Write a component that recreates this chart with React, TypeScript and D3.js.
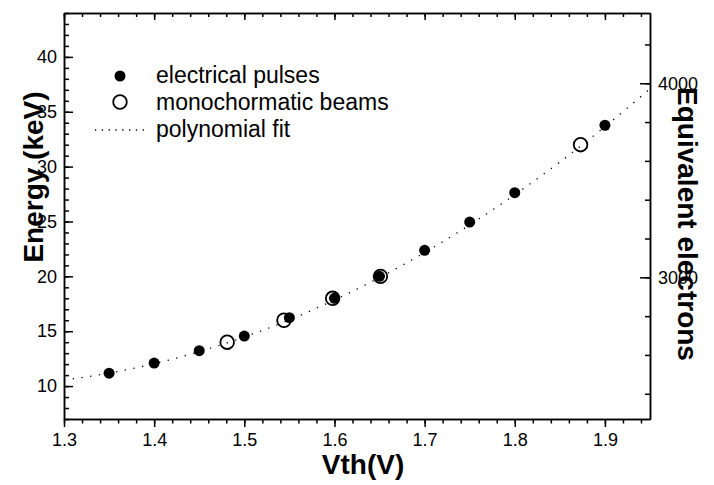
import React, { useEffect, useRef } from "react";
import * as d3 from "d3";

// electrical pulses (filled dots)
const pulseVth = [1.35, 1.4, 1.45, 1.5, 1.55, 1.6, 1.65, 1.7, 1.75, 1.8, 1.9];
const pulseE = [11.18, 12.1, 13.23, 14.56, 16.23, 18.0, 20.0, 22.37, 24.95, 27.63, 33.77];

// monochromatic beams (open circles)
const beamVth = [1.481, 1.544, 1.598, 1.651, 1.873];
const beamE = [14.0, 16.0, 18.0, 20.0, 32.0];

// polynomial fit
const fitVth = [1.3, 1.35, 1.4, 1.45, 1.5, 1.55, 1.6, 1.65, 1.7, 1.75, 1.8, 1.85, 1.9, 1.95];
const fitE = [10.55, 11.18, 12.04, 13.14, 14.47, 16.04, 17.85, 19.89, 22.17, 24.69, 27.44, 30.42, 33.64, 37.1];

const xMajor = [1.3, 1.4, 1.5, 1.6, 1.7, 1.8, 1.9];
const yMajor = [10, 15, 20, 25, 30, 35, 40];
const rightMajor = [3000, 4000];

const legendLabels = ["electrical pulses", "monochormatic beams", "polynomial fit"];

const FONT = "'Liberation Sans', Arial, sans-serif";

const App = () => {
  const ref = useRef<SVGSVGElement>(null);

  useEffect(() => {
    const width = 714;
    const height = 485;
    const left = 64, right = 650, top = 13, bottom = 419;

    const svg = d3.select(ref.current).attr("width", width).attr("height", height);
    svg.selectAll("*").remove();

    const x = d3.scaleLinear().domain([1.3, 1.95]).range([left, right]);
    const y = d3.scaleLinear().domain([7, 44]).range([bottom, top]);
    const yR = d3.scaleLinear().domain([2270, 4362]).range([bottom, top]);

    // tick positions
    const xMinor = d3.range(0, 33).map((i) => Math.round((1.3 + i * 0.02) * 100) / 100);
    const yMinor = d3.range(7, 45);
    const rMinor = d3.range(2400, 4400, 200);

    const styleAxis = (g) => {
      g.attr("font-family", FONT).attr("font-size", 18);
      g.selectAll("path, line").attr("stroke", "#000").attr("stroke-width", 1.5);
      g.selectAll("text").attr("fill", "#000");
    };

    // bottom
    svg.append("g").attr("transform", `translate(0,${bottom})`)
      .call(d3.axisBottom(x).tickValues(xMinor).tickSize(4.5).tickSizeOuter(0).tickFormat(() => ""))
      .call(styleAxis);
    svg.append("g").attr("transform", `translate(0,${bottom})`)
      .call(d3.axisBottom(x).tickValues(xMajor).tickSize(8).tickSizeOuter(0).tickPadding(6).tickFormat(d3.format(".1f")))
      .call(styleAxis);

    // top
    svg.append("g").attr("transform", `translate(0,${top})`)
      .call(d3.axisTop(x).tickValues(xMinor).tickSize(-4).tickSizeOuter(0).tickFormat(() => ""))
      .call(styleAxis);
    svg.append("g").attr("transform", `translate(0,${top})`)
      .call(d3.axisTop(x).tickValues(xMajor).tickSize(-7).tickSizeOuter(0).tickFormat(() => ""))
      .call(styleAxis);

    // left
    svg.append("g").attr("transform", `translate(${left},0)`)
      .call(d3.axisLeft(y).tickValues(yMinor).tickSize(-5).tickSizeOuter(0).tickFormat(() => ""))
      .call(styleAxis);
    svg.append("g").attr("transform", `translate(${left},0)`)
      .call(d3.axisLeft(y).tickValues(yMajor).tickSize(-9).tickSizeOuter(0).tickPadding(7))
      .call(styleAxis);

    // right (equivalent electrons)
    svg.append("g").attr("transform", `translate(${right},0)`)
      .call(d3.axisRight(yR).tickValues(rMinor).tickSize(-5).tickSizeOuter(0).tickFormat(() => ""))
      .call(styleAxis);
    svg.append("g").attr("transform", `translate(${right},0)`)
      .call(d3.axisRight(yR).tickValues(rightMajor).tickSize(-10).tickSizeOuter(0).tickPadding(8).tickFormat(d3.format("d")))
      .call(styleAxis);

    // fit curve
    const fitLine = d3.line<number>()
      .x((d, i) => x(fitVth[i]))
      .y((d) => y(d))
      .curve(d3.curveMonotoneX);
    svg.append("path")
      .attr("d", fitLine(fitE))
      .attr("fill", "none")
      .attr("stroke", "#000")
      .attr("stroke-width", 1.3)
      .attr("stroke-dasharray", "1.3 7.5");

    // electrical pulses
    svg.append("g").selectAll("circle")
      .data(pulseE)
      .enter()
      .append("circle")
      .attr("cx", (d, i) => x(pulseVth[i]))
      .attr("cy", (d) => y(d))
      .attr("r", 5.5)
      .attr("fill", "#000");

    // monochromatic beams
    svg.append("g").selectAll("circle")
      .data(beamE)
      .enter()
      .append("circle")
      .attr("cx", (d, i) => x(beamVth[i]))
      .attr("cy", (d) => y(d))
      .attr("r", 6.8)
      .attr("fill", "none")
      .attr("stroke", "#000")
      .attr("stroke-width", 1.8);

    // legend
    const lg = svg.append("g").attr("font-family", FONT).attr("font-size", 23);
    lg.append("circle").attr("cx", 120).attr("cy", 76).attr("r", 5.5).attr("fill", "#000");
    lg.append("circle").attr("cx", 120).attr("cy", 102).attr("r", 6.8)
      .attr("fill", "none").attr("stroke", "#000").attr("stroke-width", 1.8);
    lg.append("line").attr("x1", 95).attr("x2", 144).attr("y1", 130).attr("y2", 130)
      .attr("stroke", "#000").attr("stroke-width", 1.3).attr("stroke-dasharray", "1.3 5.5");
    lg.selectAll("text")
      .data(legendLabels)
      .enter()
      .append("text")
      .attr("x", 156)
      .attr("y", (d, i) => 83 + i * 27)
      .text((d) => d);

    // axis titles
    svg.append("text")
      .attr("x", 363).attr("y", 474)
      .attr("text-anchor", "middle")
      .attr("font-family", FONT).attr("font-size", 28).attr("font-weight", "bold")
      .text("Vth(V)");
    svg.append("text")
      .attr("transform", "translate(43,177) rotate(-90)")
      .attr("text-anchor", "middle")
      .attr("font-family", FONT).attr("font-size", 28).attr("font-weight", "bold")
      .text("Energy (keV)");
    svg.append("text")
      .attr("transform", "translate(678,224) rotate(90)")
      .attr("text-anchor", "middle")
      .attr("font-family", FONT).attr("font-size", 28).attr("font-weight", "bold")
      .text("Equivalent electrons");
  }, []);

  return (
    <svg ref={ref} style={{ position: "absolute", left: 0, top: 0, background: "#fff" }}></svg>
  );
};

export default App;
